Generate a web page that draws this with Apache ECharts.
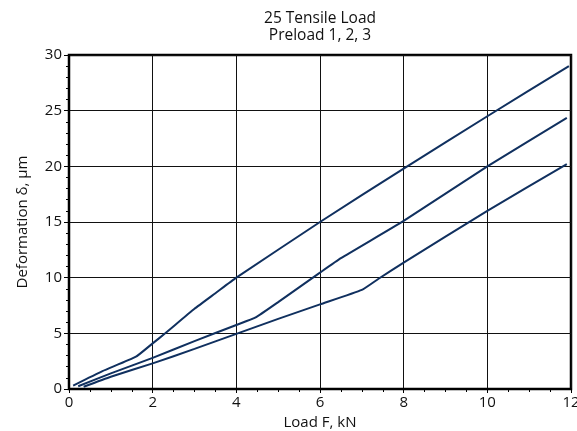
<!DOCTYPE html>
<html>
<head>
<meta charset="utf-8">
<script src="https://cdn.jsdelivr.net/npm/echarts@6/dist/echarts.min.js"></script>
<style>
html,body{margin:0;padding:0;background:#fff;}
#c{width:577px;height:431px;}
</style>
</head>
<body>
<div id="c"></div>
<script>
var titleLines = ["25 Tensile Load", "Preload 1, 2, 3"];
var xName = "Load F, kN";
var yName = "Deformation \u03b4, \u03bcm";

// Preload 1 (top curve)
var load1 = [0.1, 0.8, 1.6, 2.0, 2.3, 3.0, 3.5, 4.0, 6.0, 8.0, 10.0, 11.95];
var def1  = [0.3, 1.6, 2.9, 4.1, 5.0, 7.2, 8.6, 10.0, 15.0, 19.8, 24.5, 29.0];
// Preload 2 (middle curve)
var load2 = [0.22, 1.0, 2.0, 3.0, 4.0, 4.45, 5.0, 6.0, 6.5, 8.0, 10.0, 11.9];
var def2  = [0.25, 1.4, 2.8, 4.3, 5.75, 6.4, 7.8, 10.45, 11.75, 15.1, 20.0, 24.35];
// Preload 3 (bottom curve)
var load3 = [0.35, 1.0, 2.0, 3.0, 4.0, 5.0, 6.0, 7.0, 7.4, 8.0, 10.0, 11.9];
var def3  = [0.2, 1.1, 2.3, 3.6, 4.95, 6.3, 7.6, 8.9, 9.9, 11.35, 16.0, 20.2];

function pairs(xs, ys){ return xs.map(function(x,i){ return [x, ys[i]]; }); }

var lineColor = '#10305f';
var font = 'Open Sans';
var chart = echarts.init(document.getElementById('c'), null, {renderer:'canvas'});
function series(name, xs, ys){
  return {
    name: name, type: 'line', data: pairs(xs, ys), showSymbol: false,
    smooth: 0.15,
    lineStyle: {color: lineColor, width: 2}, animation: false
  };
}
chart.setOption({
  backgroundColor: '#fff',
  animation: false,
  textStyle: {fontFamily: font},
  title: {
    text: titleLines.join('\n'),
    left: 315, textAlign: 'center', top: 5,
    textStyle: {fontFamily: font, fontSize: 15.5, fontWeight: 'normal', color: '#111', lineHeight: 17}
  },
  grid: {left: 69, right: 6, top: 55, bottom: 42, outerBoundsMode: 'none', containLabel: false,
         show: true, borderColor: '#000', borderWidth: 2.5, backgroundColor: 'transparent'},
  xAxis: {
    type: 'value', min: 0, max: 12, interval: 2,
    name: xName, nameLocation: 'middle', nameGap: 25,
    nameTextStyle: {fontFamily: font, fontSize: 15, color: '#111'},
    axisLine: {show: true, lineStyle: {color: '#000', width: 2}},
    axisTick: {show: true, length: 4, lineStyle: {color: '#000', width: 1}},
    minorTick: {show: true, splitNumber: 4, length: 3, lineStyle: {color: '#000', width: 1}},
    axisLabel: {fontFamily: font, fontSize: 15, color: '#111', margin: 6},
    splitLine: {show: true, lineStyle: {color: '#111', width: 1}}
  },
  yAxis: {
    type: 'value', min: 0, max: 30, interval: 5,
    name: yName, nameLocation: 'middle', nameGap: 39, nameRotate: 90,
    nameTextStyle: {fontFamily: font, fontSize: 15, color: '#111'},
    axisLine: {show: true, lineStyle: {color: '#000', width: 2}},
    axisTick: {show: true, length: 5, lineStyle: {color: '#000', width: 1}},
    minorTick: {show: true, splitNumber: 5, length: 3, lineStyle: {color: '#000', width: 1}},
    axisLabel: {fontFamily: font, fontSize: 15, color: '#111', margin: 7},
    splitLine: {show: true, lineStyle: {color: '#111', width: 1}}
  },
  series: [
    series('Preload 1', load1, def1),
    series('Preload 2', load2, def2),
    series('Preload 3', load3, def3)
  ]
});
</script>
</body>
</html>
